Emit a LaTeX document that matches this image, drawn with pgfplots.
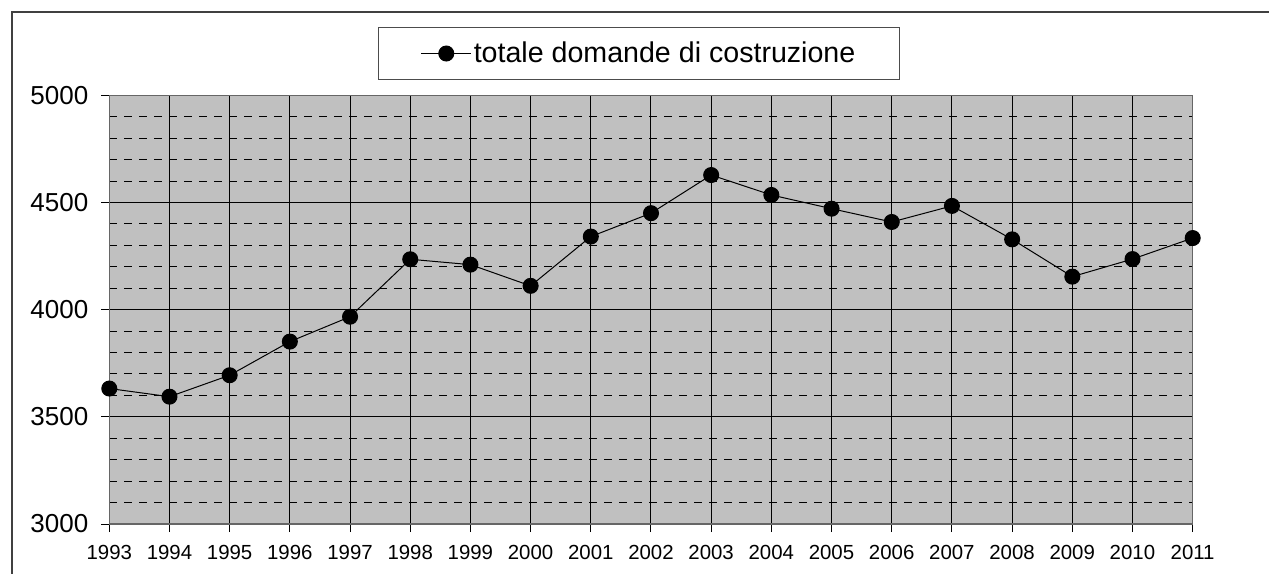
\documentclass[border=0pt]{standalone}
\usepackage{pgfplots}
\pgfplotsset{compat=1.18}
\usepackage{fontspec}
\setmainfont{Liberation Sans}
\definecolor{plotbg}{RGB}{192,192,192}
\begin{document}
\begin{tikzpicture}
\useasboundingbox (0pt,0pt) rectangle (634.5pt,-286.5pt);
\draw[black!75, line width=0.75pt] (6pt,-300pt) -- (6pt,-6pt) -- (650pt,-6pt);
\begin{axis}[
  at={(54.65pt,-262pt)}, anchor=south west,
  width=541.7pt, height=214.35pt, scale only axis,
  xmin=1993, xmax=2011, ymin=3000, ymax=5000,
  xtick={1993,...,2011},
  ytick={3000,3500,...,5000},
  minor y tick num=4,
  xtick pos=bottom, ytick pos=left,
  tick align=outside,
  major tick length=4pt, minor tick length=0pt,
  tick style={black, line width=0.5pt},
  axis background/.style={fill=plotbg},
  grid=both,
  major grid style={black, line width=0.5pt},
  minor grid style={black, line width=0.5pt, dash pattern=on 4pt off 3.5pt},
  axis line style={black!60, line width=0.75pt},
  /pgf/number format/assume math mode=true,
  /pgf/number format/1000 sep={},
  yticklabel style={font=\fontsize{13}{15}\selectfont, xshift=-3pt},
  xticklabel style={font=\fontsize{10.2}{12}\selectfont, yshift=-3pt},
  clip=false,
  legend style={at={(0.489,1.0975)}, anchor=center, draw=black!70, fill=white,
    font=\fontsize{14.3}{17}\selectfont, inner xsep=21pt, inner ysep=6pt,
    nodes={inner xsep=1pt, inner ysep=1pt}},
  legend image code/.code={\draw[mark repeat=2,mark phase=2,#1] plot coordinates {(0pt,0pt)(12.5pt,0pt)(25pt,0pt)};},
]
\addplot[black, line width=0.5pt, mark=*, mark size=3.75pt, mark options={fill=black}] coordinates {
(1993,3632) (1994,3594) (1995,3694) (1996,3851) (1997,3967) (1998,4235) (1999,4210)
(2000,4111) (2001,4341) (2002,4450) (2003,4628) (2004,4535) (2005,4471) (2006,4409)
(2007,4484) (2008,4328) (2009,4154) (2010,4236) (2011,4334)};
\addlegendentry{totale domande di costruzione}
\end{axis}
\end{tikzpicture}
\end{document}
